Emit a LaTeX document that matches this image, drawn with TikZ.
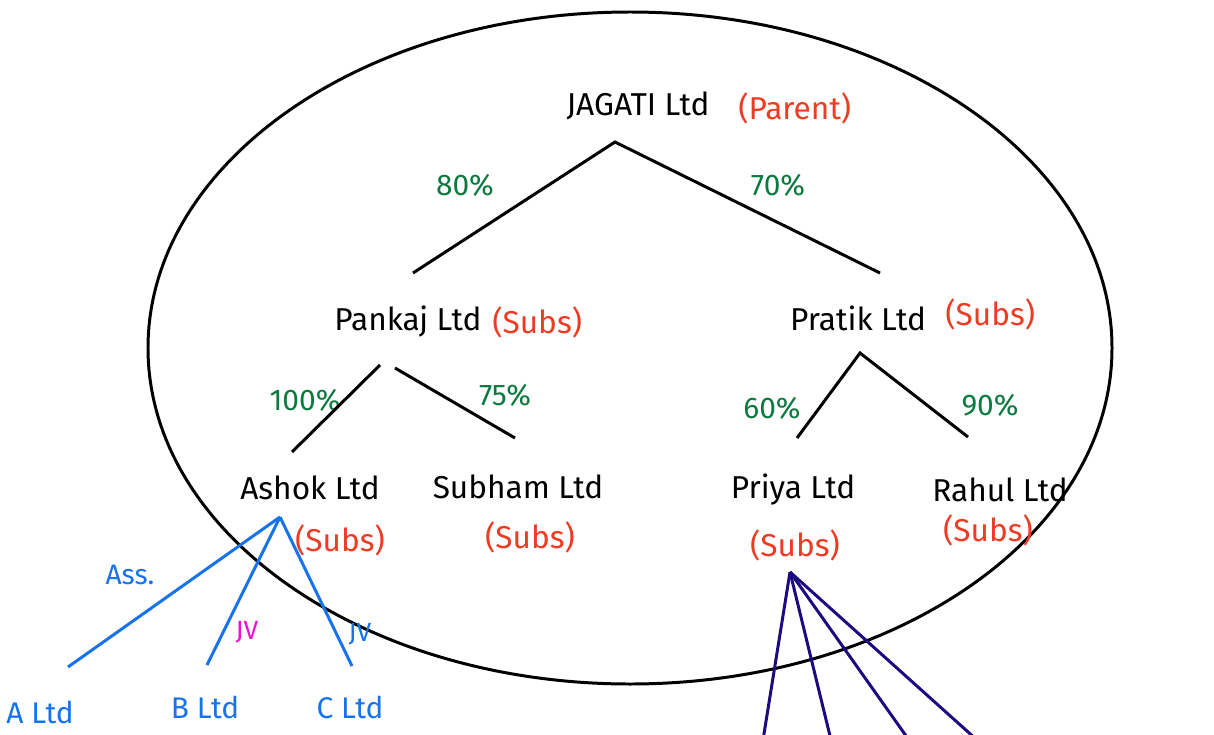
\documentclass[tikz,border=0pt]{standalone}
\usepackage{fontspec}
\setmainfont{Fira Sans}
\definecolor{pctgreen}{HTML}{0B7A3E}
\definecolor{subsred}{HTML}{EE3B24}
\definecolor{assblue}{HTML}{1673EC}
\definecolor{jvpink}{HTML}{F010D0}
\definecolor{navyline}{HTML}{1C0B80}
\begin{document}
\begin{tikzpicture}[x=0.02cm,y=-0.02cm,
  lbl/.style={inner sep=0pt,font=\fontsize{18}{20}\selectfont},
  co/.style={lbl,text=black},
  subs/.style={lbl,text=subsred},
  pct/.style={lbl,text=pctgreen,font=\fontsize{17}{19}\selectfont},
  bl/.style={lbl,text=assblue,font=\fontsize{17}{19}\selectfont},
  wire/.style={line width=1.7pt,black},
  bwire/.style={line width=1.7pt,assblue},
  nwire/.style={line width=1.7pt,navyline}]
\useasboundingbox (0,0) rectangle (1214,734);
% group boundary
\draw[line width=1.7pt] (630,348) ellipse [x radius=482, y radius=336];

% companies
\node[co] (jagati) at (638,106) {JAGATI Ltd};
\node[subs,anchor=west] (parent) at (738,108) {(Parent)};
\node[co] (pankaj) at (408,322) {Pankaj Ltd};
\node[subs,anchor=west] (pankajs) at (492,322) {(Subs)};
\node[co] (pratik) at (858,318) {Pratik Ltd};
\node[subs,anchor=west] (pratiks) at (945,314) {(Subs)};
\node[co] (ashok) at (310,488) {Ashok Ltd};
\node[subs] (ashoks) at (340,540) {(Subs)};
\node[co] (subham) at (518,487) {Subham Ltd};
\node[subs] (subhams) at (530,537) {(Subs)};
\node[co] (priya) at (793,490) {Priya Ltd};
\node[subs] (priyas) at (795,545) {(Subs)};
\node[co] (rahul) at (1000,490) {Rahul Ltd};
\node[subs] (rahuls) at (988,530) {(Subs)};
\node[bl] (altd) at (40,712) {A Ltd};
\node[bl] (bltd) at (205,707) {B Ltd};
\node[bl] (cltd) at (350,707) {C Ltd};

% holdings
\node[pct] (p80) at (465,185) {80\%};
\node[pct] (p70) at (778,185) {70\%};
\node[pct] (p100) at (305,400) {100\%};
\node[pct] (p75) at (505,395) {75\%};
\node[pct] (p60) at (772,408) {60\%};
\node[pct] (p90) at (990,405) {90\%};
\node[bl,font=\fontsize{16}{18}\selectfont] (ass) at (130,575) {Ass.};
\node[lbl,text=jvpink,font=\fontsize{15}{17}\selectfont] (jvb) at (247,632) {JV};
\node[bl,font=\fontsize{15}{17}\selectfont] (jvc) at (360,634) {JV};

% branch points
\coordinate (jtop) at (615,142);
\coordinate (pkl) at (413,273);
\coordinate (ptl) at (880,273);
\coordinate (pk1) at (380,365);
\coordinate (pk2) at (395,368);
\coordinate (ashl) at (292,452);
\coordinate (subl) at (515,438);
\coordinate (prt) at (860,353);
\coordinate (pril) at (797,438);
\coordinate (rahl) at (968,437);
\coordinate (asht) at (280,517);
\coordinate (al) at (68,667);
\coordinate (bl) at (207,665);
\coordinate (cl) at (352,666);
\coordinate (prit) at (790,572);
\coordinate (q1) at (763,740);
\coordinate (q2) at (831,740);
\coordinate (q3) at (909,740);
\coordinate (q4) at (977,740);

\draw[wire] (pkl) -- (jtop) -- (ptl);
\draw[wire] (pk1) -- (ashl);
\draw[wire] (pk2) -- (subl);
\draw[wire] (pril) -- (prt) -- (rahl);
\draw[bwire] (asht) -- (al);
\draw[bwire] (asht) -- (bl);
\draw[bwire] (asht) -- (cl);
\foreach \q in {q1,q2,q3,q4} \draw[nwire] (prit) -- (\q);
\end{tikzpicture}
\end{document}
